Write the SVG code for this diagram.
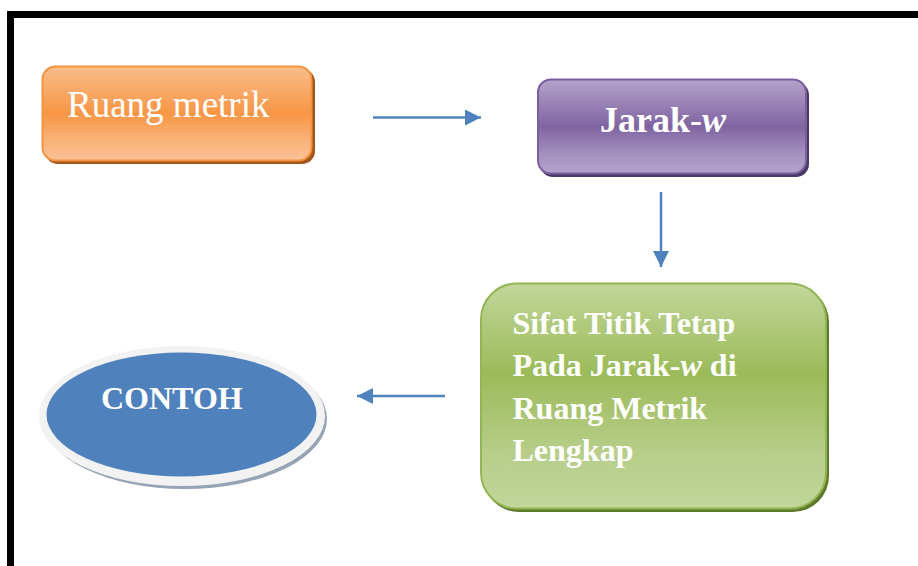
<svg xmlns="http://www.w3.org/2000/svg" width="918" height="566" viewBox="0 0 918 566">
<defs>
<linearGradient id="gOr" x1="0" y1="0" x2="0" y2="1">
<stop offset="0" stop-color="#f9bd8c"/><stop offset="0.5" stop-color="#f79646"/><stop offset="0.8" stop-color="#f9b47c"/><stop offset="1" stop-color="#fac197"/>
</linearGradient>
<linearGradient id="gPu" x1="0" y1="0" x2="0" y2="1">
<stop offset="0" stop-color="#b3a3c9"/><stop offset="0.5" stop-color="#8064a2"/><stop offset="0.8" stop-color="#a592c0"/><stop offset="1" stop-color="#b3a3c9"/>
</linearGradient>
<linearGradient id="gGr" x1="0" y1="0" x2="0" y2="1">
<stop offset="0" stop-color="#c3d69b"/><stop offset="0.4" stop-color="#9bbb59"/><stop offset="0.75" stop-color="#b7cd89"/><stop offset="1" stop-color="#c3d69b"/>
</linearGradient>
<marker id="ah" viewBox="0 0 16 16" refX="16" refY="8" markerWidth="16" markerHeight="16" markerUnits="userSpaceOnUse" orient="auto">
<path d="M0,0 L16,8 L0,16 Z" fill="#4f81bd"/>
</marker>
</defs>
<style>
.conn{stroke:#4f81bd;stroke-width:2.5;fill:none;marker-end:url(#ah)}
.t{font-family:"Liberation Serif","Times New Roman",serif;fill:#ffffff}
.b{font-weight:bold}
</style>
<rect x="0" y="0" width="918" height="566" fill="#ffffff"/>
<rect id="frame" x="10.5" y="14.5" width="920" height="570" fill="none" stroke="#000000" stroke-width="7"/>
<g id="connectors">
<line class="conn" x1="373" y1="117.5" x2="481" y2="117.5"/>
<line class="conn" x1="661" y1="192" x2="661" y2="267"/>
<line class="conn" x1="445" y1="396" x2="357" y2="396"/>
</g>
<g id="node-ruang">
<rect x="45" y="69" width="270" height="95" rx="13" fill="#a4561c"/>
<rect x="42.5" y="66.5" width="269" height="94" rx="13" fill="url(#gOr)" stroke="#f3933f" stroke-width="2"/>
<text class="t" x="67" y="116.5" font-size="37">Ruang metrik</text>
</g>
<g id="node-jarak">
<rect x="540" y="82" width="269" height="95" rx="13" fill="#4a3866"/>
<rect x="538" y="79.5" width="268" height="94" rx="13" fill="url(#gPu)" stroke="#7a5f9c" stroke-width="2"/>
<text class="t b" x="600" y="131.5" font-size="36">Jarak-<tspan font-style="italic">w</tspan></text>
</g>
<g id="node-sifat">
<rect x="483" y="286" width="346" height="226" rx="36" fill="#5f7a2c"/>
<rect x="481" y="283.5" width="345" height="225" rx="36" fill="url(#gGr)" stroke="#94b553" stroke-width="2"/>
<text class="t b" font-size="32"><tspan x="512.5" y="333.5">Sifat Titik Tetap</tspan><tspan x="512.5" y="376">Pada Jarak-<tspan font-style="italic">w</tspan> di</tspan><tspan x="512.5" y="418.5">Ruang Metrik</tspan><tspan x="512.5" y="461">Lengkap</tspan></text>
</g>
<g id="node-contoh">
<ellipse cx="185" cy="419" rx="142" ry="70" fill="#95a3b5"/>
<ellipse cx="182" cy="416" rx="143" ry="70" fill="#f2f2f2"/>
<ellipse cx="181.5" cy="414.5" rx="135" ry="62" fill="#4f81bd"/>
<text class="t b" x="101" y="409" font-size="32">CONTOH</text>
</g>
</svg>
